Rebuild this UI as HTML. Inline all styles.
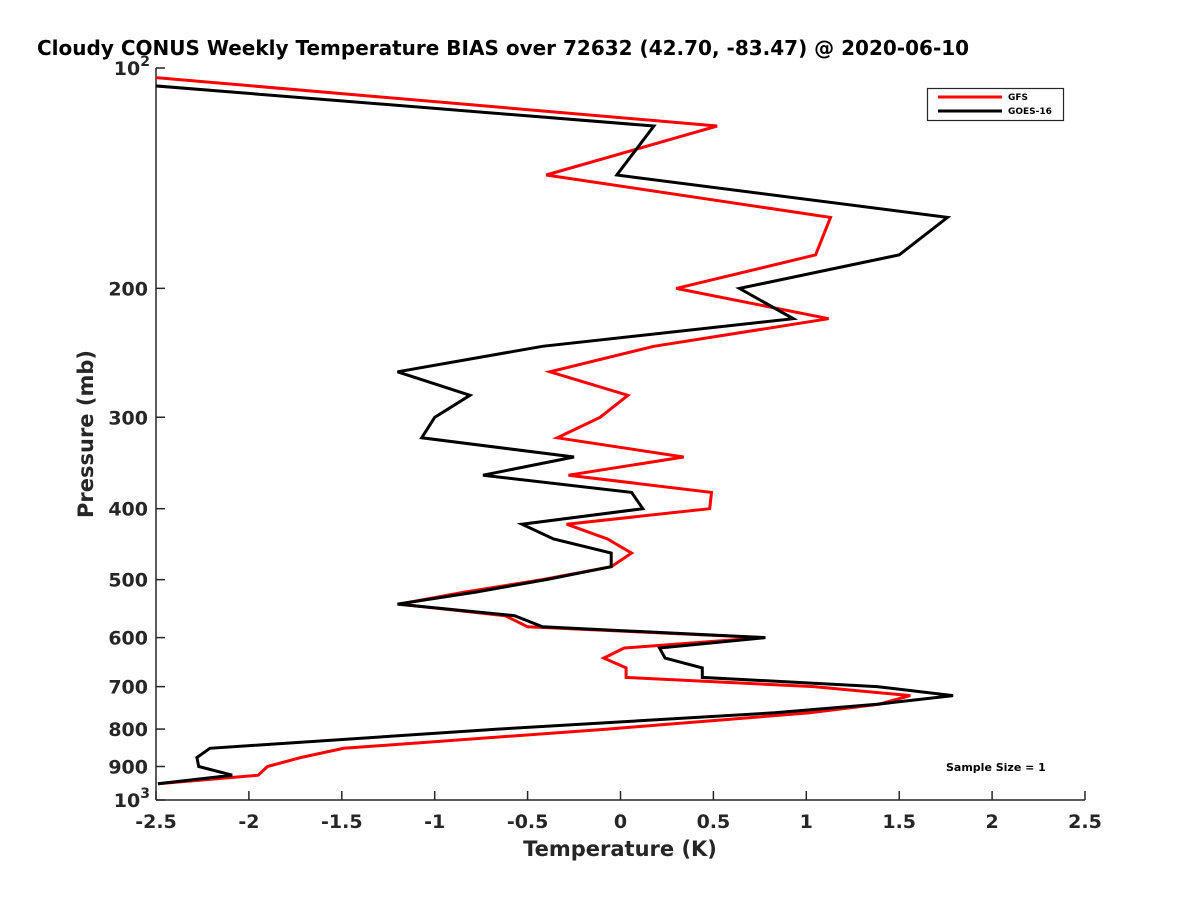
<!DOCTYPE html>
<html><head><meta charset="utf-8"><style>
body{margin:0;background:#fff;}
svg text{font-family:"DejaVu Sans","Liberation Sans",sans-serif;font-weight:bold;fill:#262626;}
</style></head><body>
<svg id="chart" width="1200" height="900" xmlns="http://www.w3.org/2000/svg">
<rect width="1200" height="900" fill="#fff"/>
<text x="37" y="55" font-size="20" style="fill:#000">Cloudy CONUS Weekly Temperature BIAS over 72632 (42.70, -83.47) @ 2020-06-10</text>
<defs><clipPath id="plotclip"><rect x="156" y="68" width="929" height="732"/></clipPath></defs>
<g id="axes"></g>
<g id="series" clip-path="url(#plotclip)"></g>
<g>
<rect x="927.5" y="88.5" width="136" height="32" fill="#fff" stroke="#262626" stroke-width="1.2"/>
<line x1="938" y1="97" x2="1002" y2="97" stroke="#f00" stroke-width="3"/>
<text x="1008" y="100" font-size="9" style="fill:#000">GFS</text>
<line x1="938" y1="111" x2="1002" y2="111" stroke="#000" stroke-width="3"/>
<text x="1008" y="114" font-size="9" style="fill:#000">GOES-16</text>
</g>
<text x="946" y="771" font-size="11" style="fill:#000">Sample Size = 1</text>
<text x="620" y="856" font-size="21" text-anchor="middle">Temperature (K)</text>
<text x="0" y="0" font-size="21" text-anchor="middle" transform="translate(93,434) rotate(-90)">Pressure (mb)</text>
</svg>
<script>
const pressureLevels=[100,120,140,160,180,200,220,240,260,280,300,320,340,360,380,400,420,440,460,480,500,520,540,560,580,600,620,640,660,680,700,720,740,760,800,850,875,900,925,950];
const gfsBias=[-3.1,0.52,-0.40,1.13,1.05,0.30,1.12,0.18,-0.38,0.04,-0.11,-0.34,0.34,-0.28,0.49,0.48,-0.29,-0.07,0.06,-0.05,-0.42,-0.84,-1.19,-0.62,-0.50,0.77,0.02,-0.09,0.03,0.03,1.04,1.56,1.39,1.02,-0.07,-1.49,-1.72,-1.90,-1.95,-2.49];
const goesBias=[-3.7,0.18,-0.02,1.76,1.50,0.64,0.93,-0.42,-1.20,-0.81,-1.00,-1.07,-0.25,-0.74,0.06,0.12,-0.53,-0.36,-0.05,-0.05,-0.40,-0.78,-1.20,-0.57,-0.42,0.78,0.21,0.24,0.44,0.44,1.38,1.79,1.38,0.83,-0.66,-2.21,-2.28,-2.27,-2.09,-2.49];
const xTicks=[-2.5,-2,-1.5,-1,-0.5,0,0.5,1,1.5,2,2.5];
const xTickLabels=["-2.5","-2","-1.5","-1","-0.5","0","0.5","1","1.5","2","2.5"];
const yTicks=[100,200,300,400,500,600,700,800,900,1000];
const yTickLabels=["10^2","200","300","400","500","600","700","800","900","10^3"];
const X0=156,X1=1085,Y0=68,Y1=800;
function xs(v){return X0+(v+2.5)/5*(X1-X0);}
function ys(p){return Y0+Math.log10(p/100)*(Y1-Y0);}
const NS="http://www.w3.org/2000/svg";
const axes=document.getElementById('axes');
const series=document.getElementById('series');
function mk(tag,attrs,parent){const e=document.createElementNS(NS,tag);for(const k in attrs)e.setAttribute(k,attrs[k]);parent.appendChild(e);return e;}
const xa=mk('line',{x1:X0,y1:Y1,x2:X1,y2:Y1,stroke:'#262626','stroke-width':1.5},axes);


const ya=mk('line',{x1:X0,y1:Y0,x2:X0,y2:Y1,stroke:'#262626','stroke-width':1.5},axes);


xTicks.forEach((v,i)=>{
 const x=xs(v);
 const t=mk('line',{x1:x,y1:Y1,x2:x,y2:Y1-9,stroke:'#262626','stroke-width':1.5},axes);
 
 
 const l=mk('text',{x:x,y:Y1+28,'font-size':19,'text-anchor':'middle'},axes);
 l.textContent=xTickLabels[i];
 
 
});
yTicks.forEach((p,i)=>{
 const y=ys(p);
 const t=mk('line',{x1:X0,y1:y,x2:X0+9,y2:y,stroke:'#262626','stroke-width':1.5},axes);
 
 
 const lab=yTickLabels[i];
 const l=mk('text',{x:X0-8,y:y+7,'font-size':19,'text-anchor':'end'},axes);
 
 
 if(lab.indexOf('^')>0){
  const parts=lab.split('^');
  l.setAttribute('x',X0-6);
  l.textContent=parts[0];
  const s=mk('tspan',{dy:-9,'font-size':14},l);
  s.textContent=parts[1];
 } else l.textContent=lab;
});
function drawLine(vals,color,name){
 const pts=vals.map((v,i)=>xs(v).toFixed(1)+','+ys(pressureLevels[i]).toFixed(1)).join(' ');
 const pl=mk('polyline',{points:pts,fill:'none',stroke:color,'stroke-width':3,'stroke-linejoin':'miter'},series);
 
 
}
drawLine(gfsBias,'#f00','gfs-line');
drawLine(goesBias,'#000','goes16-line');
</script>
</body></html>
